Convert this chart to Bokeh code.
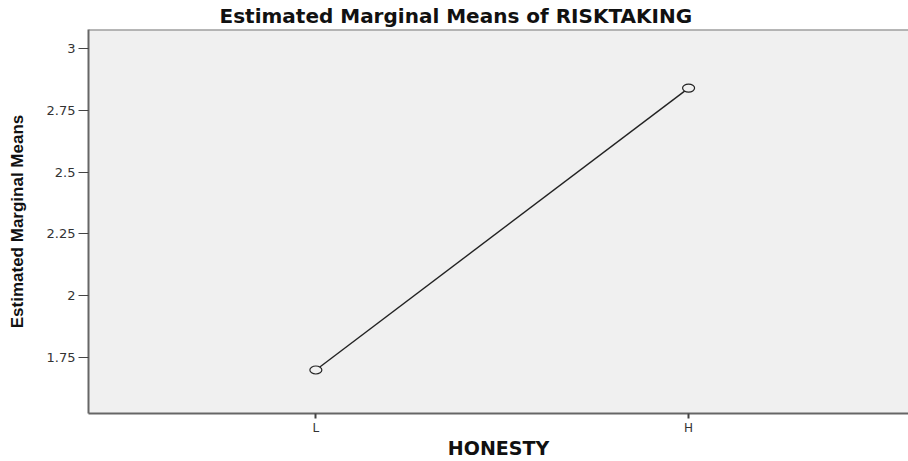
from bokeh.plotting import figure
from bokeh.models import FixedTicker, Span, ColumnDataSource, Range1d
from bokeh.embed import file_html
from bokeh.resources import INLINE

categories = ["L", "H"]
means = [1.70, 2.84]
y_ticks = [1.75, 2.0, 2.25, 2.5, 2.75, 3.0]
y_tick_labels = ["1.75", "2", "2.25", "2.5", "2.75", "3"]

xpos = list(range(1, len(categories) + 1))
src = ColumnDataSource(dict(x=xpos, y=means, cat=categories))

p = figure(width=908, height=461, output_backend="svg", toolbar_location=None,
           x_range=Range1d(0.39, 2.59), y_range=Range1d(1.524, 3.077),
           min_border_left=88, min_border_right=0, min_border_top=0, min_border_bottom=0,
           title="Estimated Marginal Means of RISKTAKING")

p.title.text_font = "DejaVu Sans"
p.title.text_font_style = "bold"
p.title.text_font_size = "20px"
p.title.align = "left"
p.title.offset = 131
p.title.standoff = 3
p.title.text_color = "#111111"

p.background_fill_color = "#F0F0F0"
p.border_fill_color = "white"
p.outline_line_color = None
p.grid.visible = False

top = Span(location=p.y_range.end, dimension="width", line_color="#777777", line_width=2)
p.add_layout(top)

xa = p.xaxis[0]
xa.ticker = FixedTicker(ticks=xpos)
xa.major_label_overrides = {i: c for i, c in zip(xpos, categories)}
xa.axis_label = "HONESTY"
xa.axis_label_text_font = "DejaVu Sans"
xa.axis_label_text_font_style = "bold"
xa.axis_label_text_font_size = "19px"
xa.axis_label_text_color = "#111111"
xa.axis_label_standoff = -1
xa.major_label_text_font = "DejaVu Sans"
xa.major_label_text_font_size = "12px"
xa.major_label_text_color = "#333333"
xa.major_label_standoff = 2
xa.major_tick_out = 5
xa.major_tick_in = 0
xa.major_tick_line_color = "#444444"
xa.major_tick_line_width = 2
xa.minor_tick_line_color = None
xa.axis_line_color = "#666666"
xa.axis_line_width = 2

ya = p.yaxis[0]
ya.ticker = FixedTicker(ticks=y_ticks)
ya.major_label_overrides = {t: l for t, l in zip(y_ticks, y_tick_labels)}
ya.axis_label = "Estimated Marginal Means"
ya.axis_label_text_font = "Liberation Sans"
ya.axis_label_text_font_style = "bold"
ya.axis_label_text_font_size = "17px"
ya.axis_label_text_color = "#111111"
ya.axis_label_standoff = 17
ya.major_label_text_font = "DejaVu Sans"
ya.major_label_text_font_size = "13px"
ya.major_label_text_color = "#333333"
ya.major_label_standoff = 3
ya.major_tick_out = 10
ya.major_tick_in = 0
ya.major_tick_line_color = "#444444"
ya.major_tick_line_width = 1
ya.minor_tick_line_color = None
ya.axis_line_color = "#666666"
ya.axis_line_width = 2

p.line("x", "y", source=src, line_color="#222222", line_width=1.4)
p.ellipse("x", "y", source=src, width=12, height=8, width_units="screen", height_units="screen",
          fill_color="#F0F0F0", line_color="#222222", line_width=1.2)

open("out.html", "w").write(file_html(p, INLINE))
